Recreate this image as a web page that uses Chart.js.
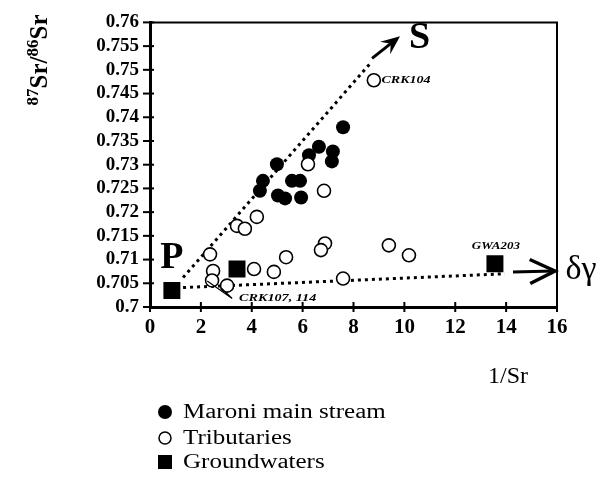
<!DOCTYPE html>
<html>
<head>
<meta charset="utf-8">
<script src="https://cdn.jsdelivr.net/npm/chart.js@4.4.1/dist/chart.umd.min.js"></script>
<style>
  html, body { margin: 0; padding: 0; background: #fff; }
  #wrap { width: 604px; height: 485px; }
</style>
</head>
<body>
<div id="wrap"><canvas id="c" width="604" height="485"></canvas></div>
<script>
// Maroni main stream samples: 1/Sr and 87Sr/86Sr
const mainInvSr = [7.59, 6.64, 7.19, 7.15, 6.25, 4.99, 4.44, 4.32, 5.58, 5.90, 5.03, 5.31, 5.94];
const mainRatio = [0.7379, 0.7338, 0.7328, 0.7307, 0.7320, 0.7301, 0.7266, 0.7245, 0.7266, 0.7266, 0.7235, 0.7229, 0.7231];

// Tributaries
const tribInvSr = [8.80, 6.21, 6.84, 4.20, 3.42, 3.73, 2.36, 2.48, 2.44, 3.03, 4.09, 4.87, 5.35, 6.88, 6.72, 9.39, 10.18, 7.59];
const tribRatio = [0.7478, 0.7301, 0.7245, 0.7190, 0.7171, 0.7165, 0.7111, 0.7076, 0.7056, 0.7045, 0.7080, 0.7074, 0.7105, 0.7134, 0.7120, 0.7130, 0.7109, 0.7060];

// Groundwaters (P end-member, one intermediate, GWA203)
const gwInvSr = [0.86, 3.42, 13.56];
const gwRatio = [0.7035, 0.7080, 0.7091];

// Mixing trends from P towards S and towards the δγ pole
const trendS = { x: [1.3, 8.65], y: [0.7062, 0.7513] };
const trendD = { x: [1.3, 13.95], y: [0.7041, 0.7070] };
const arrowS = { x: [8.73, 9.83], y: [0.7524, 0.7571] };
const arrowD = { x: [14.27, 15.96], y: [0.7074, 0.7076] };

// Axis ticks
const xTicks = [0, 2, 4, 6, 8, 10, 12, 14, 16];
const yTicks = [0.7, 0.705, 0.71, 0.715, 0.72, 0.725, 0.73, 0.735, 0.74, 0.745, 0.75, 0.755, 0.76];

const pts = (xs, ys) => xs.map((x, i) => ({ x, y: ys[i] }));
const SERIF = '"Liberation Serif", "Times New Roman", serif';

function txt(ctx, s, x, y, font, align, sx, baseline) {
  ctx.save();
  ctx.translate(x, y);
  ctx.scale(sx || 1, 1);
  ctx.font = font;
  ctx.fillStyle = '#000';
  ctx.textAlign = align || 'center';
  ctx.textBaseline = baseline || 'middle';
  ctx.fillText(s, 0, 0);
  ctx.restore();
}

const decor = {
  id: 'decor',
  afterDraw(chart) {
    const ctx = chart.ctx;
    const xs = chart.scales.x, ys = chart.scales.y;
    const a = chart.chartArea;
    const px = v => xs.getPixelForValue(v);
    const py = v => ys.getPixelForValue(v);
    ctx.save();
    ctx.strokeStyle = '#000';
    ctx.fillStyle = '#000';

    // top and right frame
    ctx.lineWidth = 2;
    ctx.beginPath();
    ctx.moveTo(a.left, a.top); ctx.lineTo(a.right, a.top); ctx.lineTo(a.right, a.bottom);
    ctx.stroke();

    // tick marks crossing the axes
    ctx.lineWidth = 2;
    ys.ticks.forEach(t => {
      const y = py(t.value);
      ctx.beginPath(); ctx.moveTo(a.left - 7, y); ctx.lineTo(a.left + 4, y); ctx.stroke();
    });
    xs.ticks.forEach(t => {
      const x = px(t.value);
      ctx.beginPath(); ctx.moveTo(x, a.bottom - 5); ctx.lineTo(x, a.bottom + 5); ctx.stroke();
    });

    // arrow towards S (filled barbed head)
    {
      const x1 = px(arrowS.x[0]), y1 = py(arrowS.y[0]), x2 = px(arrowS.x[1]), y2 = py(arrowS.y[1]);
      const ang = Math.atan2(y2 - y1, x2 - x1);
      ctx.lineWidth = 3;
      ctx.beginPath(); ctx.moveTo(x1, y1);
      ctx.lineTo(x2 - 10 * Math.cos(ang), y2 - 10 * Math.sin(ang)); ctx.stroke();
      ctx.save(); ctx.translate(x2, y2); ctx.rotate(ang);
      ctx.beginPath();
      ctx.moveTo(0, 0); ctx.lineTo(-19, -8); ctx.lineTo(-12, 0); ctx.lineTo(-19, 8); ctx.closePath();
      ctx.fill();
      ctx.restore();
    }
    // arrow towards δγ (open chevron head)
    {
      const x1 = px(arrowD.x[0]), y1 = py(arrowD.y[0]), x2 = px(arrowD.x[1]), y2 = py(arrowD.y[1]);
      const ang = Math.atan2(y2 - y1, x2 - x1);
      ctx.lineWidth = 3;
      ctx.beginPath(); ctx.moveTo(x1, y1); ctx.lineTo(x2 - 2, y2); ctx.stroke();
      ctx.save(); ctx.translate(x2, y2); ctx.rotate(ang);
      ctx.lineWidth = 3.5; ctx.lineJoin = 'miter';
      ctx.beginPath(); ctx.moveTo(-26, -12); ctx.lineTo(-1, 0); ctx.lineTo(-26, 12); ctx.stroke();
      ctx.restore();
    }

    // pointer to CRK107, 114
    ctx.lineWidth = 1.2;
    ctx.beginPath();
    ctx.moveTo(px(2.25), py(0.7055)); ctx.lineTo(px(3.23), py(0.7018));
    ctx.moveTo(px(2.8), py(0.7040)); ctx.lineTo(px(3.23), py(0.7018));
    ctx.stroke();

    // end-member and sample labels
    txt(ctx, 'P', px(0.86), py(0.7103), 'bold 38px ' + SERIF, 'center', 1);
    txt(ctx, 'S', px(10.6), py(0.7567), 'bold 38px ' + SERIF, 'center', 1);
    txt(ctx, 'δγ', a.right + 24, py(0.7078), '34px ' + SERIF, 'center', 1);
    txt(ctx, 'CRK104', px(9.1), py(0.7478), 'italic bold 10px ' + SERIF, 'left', 1.4);
    txt(ctx, 'GWA203', px(13.6), py(0.7128), 'italic bold 10px ' + SERIF, 'center', 1.3);
    txt(ctx, 'CRK107, 114', px(3.5), py(0.7018), 'italic bold 10.5px ' + SERIF, 'left', 1.35);

    // x axis title
    txt(ctx, '1/Sr', 508, 377, '24px ' + SERIF, 'center', 1);

    // y axis title: 87Sr/86Sr with superscripts, rotated
    ctx.save();
    ctx.translate(47, 60);
    ctx.rotate(-Math.PI / 2);
    const parts = [
      ['87', 'bold 17px ' + SERIF, -9],
      ['Sr', 'bold 25px ' + SERIF, 0],
      ['/', 'bold 25px ' + SERIF, 0],
      ['86', 'bold 17px ' + SERIF, -9],
      ['Sr', 'bold 25px ' + SERIF, 0]
    ];
    let total = 0;
    parts.forEach(p => { ctx.font = p[1]; total += ctx.measureText(p[0]).width; });
    let cx = -total / 2;
    ctx.textBaseline = 'alphabetic'; ctx.textAlign = 'left';
    parts.forEach(p => {
      ctx.font = p[1];
      ctx.fillText(p[0], cx, p[2]);
      cx += ctx.measureText(p[0]).width;
    });
    ctx.restore();

    // legend
    const ds = chart.data.datasets;
    const rows = [
      { d: ds.find(d => d.key === 'main'), y: 412 },
      { d: ds.find(d => d.key === 'trib'), y: 438 },
      { d: ds.find(d => d.key === 'gw'), y: 462 }
    ];
    rows.forEach(r => {
      const mx = 165;
      ctx.lineWidth = 1.5;
      if (r.d.key === 'main') {
        ctx.beginPath(); ctx.arc(mx, r.y, 7, 0, Math.PI * 2); ctx.fill();
      } else if (r.d.key === 'trib') {
        ctx.beginPath(); ctx.arc(mx, r.y, 6, 0, Math.PI * 2); ctx.stroke();
      } else {
        ctx.fillRect(mx - 7, r.y - 7, 14, 14);
      }
      txt(ctx, r.d.label, 183, r.y + 1, '20px ' + SERIF, 'left', 1.25);
    });
    ctx.restore();
  }
};

new Chart(document.getElementById('c'), {
  type: 'scatter',
  data: {
    datasets: [
      {
        key: 'lineS', label: 'trend S', data: pts(trendS.x, trendS.y), showLine: true,
        borderColor: '#000', borderWidth: 3, borderDash: [3, 4], pointRadius: 0, order: 5
      },
      {
        key: 'lineD', label: 'trend δγ', data: pts(trendD.x, trendD.y), showLine: true,
        borderColor: '#000', borderWidth: 3, borderDash: [3, 4], pointRadius: 0, order: 5
      },
      {
        key: 'main', label: 'Maroni main stream', data: pts(mainInvSr, mainRatio),
        pointRadius: 7, backgroundColor: '#000', borderColor: '#000', borderWidth: 0, order: 3
      },
      {
        key: 'trib', label: 'Tributaries', data: pts(tribInvSr, tribRatio),
        pointRadius: 6.5, backgroundColor: '#fff', borderColor: '#000', borderWidth: 1.6, order: 2
      },
      {
        key: 'gw', label: 'Groundwaters', data: pts(gwInvSr, gwRatio), pointStyle: 'rect',
        pointRadius: 12, backgroundColor: '#000', borderColor: '#000', borderWidth: 0, order: 1
      }
    ]
  },
  options: {
    responsive: false,
    animation: false,
    devicePixelRatio: 1,
    layout: { padding: { top: 16, right: 47, left: 0, bottom: 0 } },
    plugins: { legend: { display: false }, tooltip: { enabled: false } },
    scales: {
      x: {
        type: 'linear', min: 0, max: 16,
        afterFit: s => { s.height = 178; },
        afterBuildTicks: s => { s.ticks = xTicks.map(v => ({ value: v })); },
        grid: { display: false, drawTicks: false },
        border: { display: true, color: '#000', width: 3 },
        ticks: { color: '#000', padding: 8, font: { family: SERIF, size: 21, weight: 'bold' }, maxRotation: 0 }
      },
      y: {
        type: 'linear', min: 0.7, max: 0.76,
        afterFit: s => { s.width = 150; },
        afterBuildTicks: s => { s.ticks = yTicks.map(v => ({ value: v })); },
        grid: { display: false, drawTicks: false },
        border: { display: true, color: '#000', width: 3 },
        ticks: {
          color: '#000', padding: 11, autoSkip: false,
          font: { family: SERIF, size: 19, weight: 'bold' },
          callback: v => String(+v.toFixed(3))
        }
      }
    }
  },
  plugins: [decor]
});
</script>
</body>
</html>
